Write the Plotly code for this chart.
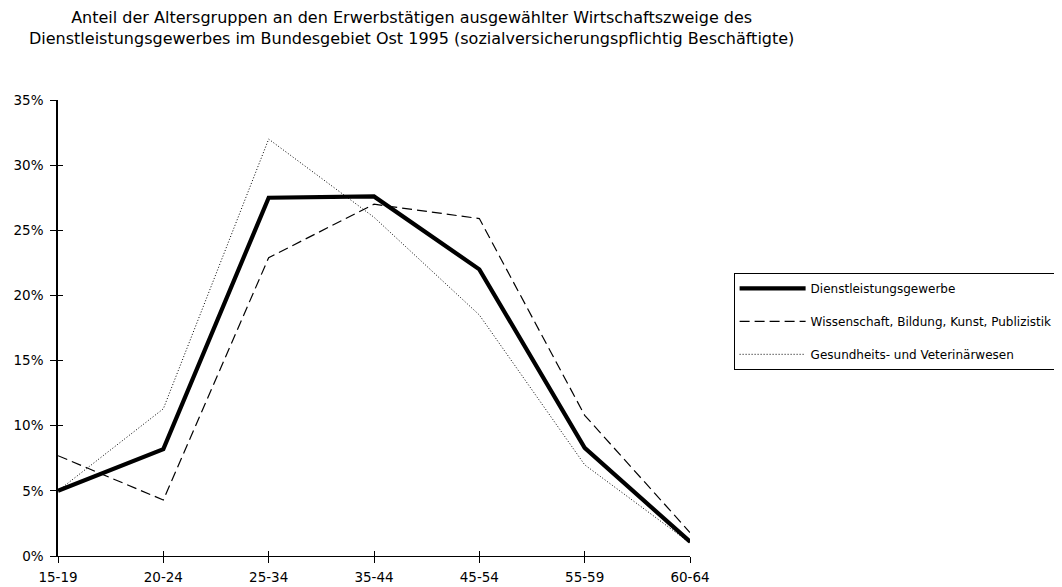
import plotly.graph_objects as go

altersgruppen = ["15-19", "20-24", "25-34", "35-44", "45-54", "55-59", "60-64"]

dienstleistung = [5.0, 8.2, 27.5, 27.6, 22.0, 8.3, 1.1]
wissenschaft = [7.7, 4.3, 22.9, 27.0, 25.9, 10.8, 1.8]
gesundheit = [5.0, 11.3, 32.0, 26.0, 18.5, 7.0, 1.0]

titel = ("Anteil der Altersgruppen an den Erwerbstätigen ausgewählter Wirtschaftszweige des<br>"
         "Dienstleistungsgewerbes im Bundesgebiet Ost 1995 (sozialversicherungspflichtig Beschäftigte)")

serien = [
    ("Dienstleistungsgewerbe", dienstleistung, dict(color="black", width=4.2)),
    ("Wissenschaft, Bildung, Kunst, Publizistik", wissenschaft,
     dict(color="black", width=1.2, dash="10px,5px")),
    ("Gesundheits- und Veterinärwesen", gesundheit,
     dict(color="black", width=1, dash="1px,2px")),
]

fig = go.Figure()
for i, (name, werte, linie) in enumerate(serien):
    fig.add_trace(go.Scatter(
        x=list(range(len(altersgruppen))), y=werte, name=name, mode="lines",
        line=linie, legendgroup=str(i),
    ))

schrift = "DejaVu Sans, Verdana, sans-serif"

fig.add_annotation(
    text=titel, xref="paper", yref="paper", x=0.56, y=1.158,
    xanchor="center", yanchor="middle", showarrow=False,
    font=dict(family=schrift, size=16, color="black"),
)

fig.update_layout(
    width=1062,
    height=587,
    margin=dict(l=50, r=375, t=92, b=39),
    paper_bgcolor="white",
    plot_bgcolor="white",
    font=dict(family=schrift, size=13.5, color="black"),
    showlegend=True,
    xaxis=dict(
        range=[0, 6], tickvals=list(range(len(altersgruppen))), ticktext=altersgruppen,
        showgrid=False, zeroline=False, showline=True, linecolor="black", linewidth=1,
        ticks="outside", ticklen=6, tickcolor="black", ticklabelstandoff=3,
        automargin=False,
    ),
    yaxis=dict(
        range=[0, 35], dtick=5, ticksuffix="%",
        showgrid=False, zeroline=False, showline=True, linecolor="black", linewidth=1.5,
        ticks="outside", ticklen=6, tickcolor="black", ticklabelstandoff=4,
        automargin=False,
    ),
    xaxis2=dict(
        overlaying="x", anchor="y", range=[0, 6], tickvals=list(range(len(altersgruppen))),
        showticklabels=False, ticks="inside", ticklen=5, tickcolor="black",
        showgrid=False, zeroline=False, showline=False,
    ),
    yaxis2=dict(
        overlaying="y", anchor="x", range=[0, 35], dtick=5,
        showticklabels=False, ticks="inside", ticklen=5, tickcolor="black",
        showgrid=False, zeroline=False, showline=False,
    ),
    legend=dict(
        x=1.069, xanchor="left", y=0.621, yanchor="top",
        bordercolor="black", borderwidth=1, bgcolor="white",
        font=dict(size=12, family=schrift), itemwidth=66,
        traceorder="grouped", tracegroupgap=14,
    ),
)

# empty helper trace so that the overlay axes with crossing ticks are drawn
fig.add_trace(go.Scatter(x=[], y=[], xaxis="x2", yaxis="y2", showlegend=False, hoverinfo="skip"))

fig.write_html("out.html")
